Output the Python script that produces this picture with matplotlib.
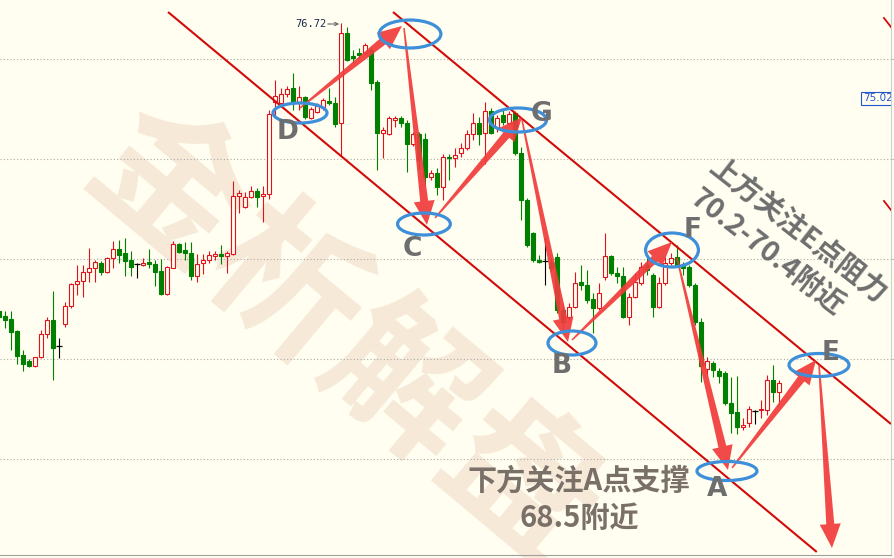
import matplotlib
matplotlib.use('Agg')
import matplotlib.pyplot as plt
from matplotlib.patches import Ellipse, Polygon, Rectangle
from matplotlib.transforms import IdentityTransform
import numpy as np

BG = '#FFFEF0'
RED = '#E0121E'
GREEN = '#008000'

# ---- candle data (price units) ----
opens = [70.96, 70.86, 70.80, 70.56, 70.08, 69.96, 69.86, 70.04, 70.50, 70.78,
         70.26, 70.70, 71.06, 71.50, 71.56, 71.74, 71.82, 71.92, 71.74, 72.02,
         72.20, 72.12, 71.98, 71.90, 71.88, 71.94, 71.90, 71.76, 71.30, 71.82,
         72.30, 72.18, 72.12, 71.66, 71.92, 71.98, 72.06, 72.10, 72.06, 72.10,
         73.26, 73.04, 73.24, 73.36, 73.26, 73.30, 75.14, 75.12, 75.30, 75.42,
         75.14, 75.24, 74.82, 74.94, 75.04, 75.16, 75.12, 74.72, 76.52, 76.06,
         76.12, 76.12, 76.18, 75.54, 74.52, 74.50, 74.78, 74.82, 74.72, 74.30,
         74.50, 74.40, 73.64, 73.72, 73.44, 74.04, 74.02, 74.12, 74.22, 74.50,
         74.72, 74.52, 74.96, 74.62, 74.88, 74.72, 74.92, 74.12, 73.18, 72.52,
         71.98, 71.96, 71.94, 72.04, 70.98, 70.84, 71.04, 71.54, 71.48, 71.20,
         71.02, 71.64, 72.06, 71.72, 71.66, 70.84, 71.24, 71.52, 71.88, 71.68,
         71.04, 71.52, 71.92, 72.04, 71.86, 71.84, 71.48, 70.74, 69.80, 69.92,
         69.76, 69.72, 69.12, 68.94, 68.64, 68.72, 68.96, 68.98, 68.98, 69.58,
         69.34]
highs = [71.02, 70.96, 70.96, 70.58, 70.18, 70.00, 70.04, 70.58, 70.84, 71.36,
         70.42, 71.14, 71.52, 71.88, 71.88, 72.22, 71.98, 71.96, 72.04, 72.36,
         72.38, 72.42, 72.16, 71.92, 72.02, 72.20, 71.98, 72.00, 71.86, 72.36,
         72.32, 72.34, 72.34, 72.10, 72.10, 72.16, 72.16, 72.28, 72.16, 73.56,
         73.38, 73.34, 73.46, 73.42, 73.46, 74.98, 75.58, 75.42, 75.46, 75.72,
         75.46, 75.26, 75.04, 75.12, 75.22, 75.42, 75.24, 76.72, 76.64, 76.18,
         76.22, 76.32, 76.24, 75.58, 74.64, 74.86, 74.86, 74.86, 74.78, 74.54,
         74.54, 74.52, 73.78, 73.82, 74.10, 74.10, 74.22, 74.32, 74.58, 74.92,
         74.84, 75.14, 75.02, 74.88, 74.98, 74.96, 74.96, 74.24, 73.22, 72.54,
         72.08, 72.42, 72.02, 72.12, 71.08, 71.12, 71.74, 71.88, 71.78, 71.32,
         71.52, 72.52, 72.08, 71.84, 71.84, 71.32, 71.72, 71.94, 72.02, 71.72,
         71.64, 72.04, 72.12, 72.28, 71.94, 71.88, 71.52, 70.82, 70.04, 69.96,
         69.82, 69.76, 69.64, 69.66, 68.82, 69.06, 68.98, 69.18, 69.68, 69.88,
         69.58]
lows = [70.78, 70.62, 70.18, 69.90, 69.76, 69.84, 69.84, 70.02, 70.42, 69.58,
        70.02, 70.64, 71.02, 71.28, 71.24, 71.54, 71.54, 71.68, 71.72, 71.82,
        71.92, 71.66, 71.66, 71.62, 71.86, 71.82, 71.46, 71.28, 71.28, 71.82,
        72.12, 71.98, 71.58, 71.54, 71.70, 71.92, 71.98, 71.90, 71.72, 72.08,
        72.92, 73.02, 73.22, 73.04, 72.74, 73.20, 74.82, 75.04, 75.24, 74.98,
        74.98, 74.80, 74.80, 74.92, 74.98, 75.08, 74.64, 74.08, 75.96, 75.92,
        76.02, 76.08, 75.38, 73.78, 74.02, 74.48, 74.64, 74.64, 73.74, 74.26,
        73.78, 73.48, 73.58, 73.28, 73.18, 73.58, 73.84, 74.04, 74.18, 74.38,
        74.28, 73.90, 74.50, 74.54, 74.68, 74.68, 74.08, 72.78, 72.24, 71.94,
        71.92, 71.48, 71.74, 70.92, 70.52, 70.78, 71.02, 71.38, 71.12, 70.52,
        70.98, 71.58, 71.68, 71.52, 70.82, 70.68, 71.22, 71.48, 71.68, 70.84,
        71.02, 71.48, 71.88, 71.84, 71.68, 71.44, 70.68, 69.54, 69.64, 69.64,
        69.52, 69.08, 68.52, 68.50, 68.58, 68.64, 68.70, 68.82, 68.88, 69.14,
        69.08]
closes = [70.84, 70.78, 70.54, 70.06, 69.90, 69.86, 70.04, 70.50, 70.78, 70.22,
          70.26, 71.06, 71.50, 71.56, 71.74, 71.82, 71.94, 71.74, 72.02, 72.20,
          72.08, 71.96, 71.84, 71.90, 71.92, 71.90, 71.74, 71.30, 71.84, 72.30,
          72.14, 72.12, 71.66, 71.90, 71.98, 72.08, 72.10, 72.06, 72.12, 73.26,
          73.32, 73.24, 73.36, 73.24, 73.30, 74.90, 75.26, 75.30, 75.40, 75.12,
          75.24, 74.84, 75.00, 75.06, 75.18, 75.12, 74.70, 76.52, 75.98, 76.02,
          76.08, 76.28, 75.52, 74.52, 74.58, 74.82, 74.82, 74.72, 74.30, 74.50,
          73.98, 73.64, 73.72, 73.44, 74.04, 74.02, 74.08, 74.22, 74.50, 74.72,
          74.50, 74.96, 74.52, 74.82, 74.74, 74.90, 74.12, 73.18, 72.28, 71.98,
          71.94, 71.96, 71.82, 70.98, 70.74, 71.04, 71.52, 71.48, 71.18, 71.02,
          71.32, 72.06, 71.72, 71.66, 70.84, 71.24, 71.54, 71.84, 71.78, 71.04,
          71.52, 71.92, 72.02, 71.88, 71.82, 71.48, 70.74, 69.86, 69.96, 69.78,
          69.66, 69.12, 68.92, 68.64, 68.68, 69.00, 68.96, 69.00, 69.58, 69.34,
          69.52]

grid_levels = [68, 70, 72, 74, 76]
high_label = '76.72'
price_tag = '75.02'

# channel lines (bar index, price)
lower_line = [(28.17, 76.94), (136.3, 66.14)]
upper_line = [(65.67, 76.94), (148.67, 68.70)]

# key points: label, ellipse centre, ellipse size, label position
points = {
    'D': ((50.17, 74.92), (9.0, 0.40), (48.17, 74.54)),
    '':  ((68.5, 76.50), (10.3, 0.56), None),
    'C': ((70.83, 72.70), (8.8, 0.44), (68.83, 72.20)),
    'G': ((86.5, 74.78), (9.5, 0.48), (90.5, 74.90)),
    'B': ((95.5, 70.32), (8.0, 0.48), (93.83, 69.86)),
    'F': ((112.17, 72.18), (8.8, 0.68), (115.67, 72.58)),
    'A': ((121.33, 67.76), (10.0, 0.38), (119.67, 67.40)),
    'E': ((136.67, 69.88), (10.0, 0.46), (138.67, 70.12)),
}

# arrows: (start, tip)
arrows = [
    ((50.17, 75.02), (67.17, 76.66)),
    ((67.5, 76.62), (71.33, 72.68)),
    ((72.67, 72.82), (87.17, 74.84)),
    ((87.17, 74.78), (94.83, 70.34)),
    ((95.5, 70.38), (112.17, 72.34)),
    ((113.0, 72.02), (121.5, 67.78)),
    ((122.17, 67.82), (136.17, 69.98)),
    ((136.67, 69.88), (138.83, 66.22)),
]

fig = plt.figure(figsize=(8.95, 5.58), dpi=100, facecolor=BG)
ax = fig.add_axes([0, 3 / 558, 891 / 895, 555 / 558])
ax.set_facecolor(BG)
ax.set_xlim(0.167, 148.67)
ax.set_ylim(66.08, 77.18)

# watermark
ax.text(0.385, 0.39, '金析解盘', transform=ax.transAxes, fontsize=110,
        fontweight='bold', color='#F6E9D8', rotation=-40, rotation_mode='anchor',
        ha='center', va='center', family=['Noto Sans CJK SC', 'DejaVu Sans'], zorder=0.2)

# grid
ax.set_yticks(grid_levels)
ax.yaxis.grid(True, linestyle=(0, (1, 2)), color='#A9A9A9', lw=0.8)
ax.set_axisbelow(True)
ax.set_xticks([])
ax.yaxis.tick_right()
ax.tick_params(axis='y', length=3, color='#BBBBBB', labelright=False, labelleft=False)
for s in ['left', 'top']:
    ax.spines[s].set_visible(False)
ax.spines['right'].set_color('#CFCFCF')
ax.spines['right'].set_linewidth(0.8)
ax.spines['bottom'].set_color('#A0A0A0')
ax.spines['bottom'].set_linewidth(0.8)

# candles
bw = 0.72
for i, (o, h, l, c) in enumerate(zip(opens, highs, lows, closes)):
    if c > o:
        col = RED
    elif c < o:
        col = GREEN
    else:
        col = '#000000'
    ax.vlines(i, l, h, color=col, lw=0.8, zorder=3)
    if c == o:
        ax.hlines(c, i - 0.42, i + 0.42, color=col, lw=0.9, zorder=4)
        continue
    bottom = min(o, c)
    height = max(abs(c - o), 0.02)
    face = BG if c > o else GREEN
    ax.add_patch(Rectangle((i - bw / 2, bottom), bw, height, facecolor=face,
                           edgecolor=col, lw=0.8, zorder=4))

# channel lines
for ln in (lower_line, upper_line):
    (x0, y0), (x1, y1) = ln
    ax.plot([x0, x1], [y0, y1], color='#D20A0A', lw=1.5, zorder=5, solid_capstyle='butt')

# small extra right-edge line pieces
ax.plot([147.5, 148.67], [76.82, 76.64], color='#D20A0A', lw=1.3, zorder=5)
ax.plot([147.5, 148.67], [73.16, 72.98], color='#D20A0A', lw=1.3, zorder=5)


def taper_arrow(p0, p1, w0=1.5, w1=8.0, hw=21.0, hl=24.0, color='#F03C3C'):
    t = ax.transData
    a = np.array(t.transform(p0))
    b = np.array(t.transform(p1))
    d = b - a
    L = np.hypot(*d)
    u = d / L
    n = np.array([-u[1], u[0]])
    hb = b - u * hl
    pts = [a + n * w0 / 2, hb + n * w1 / 2, hb + n * hw / 2, b,
           hb - n * hw / 2, hb - n * w1 / 2, a - n * w0 / 2]
    poly = Polygon(pts, closed=True, transform=IdentityTransform(),
                   facecolor=color, edgecolor='none', alpha=0.93, zorder=6)
    ax.add_patch(poly)


for s, e in arrows:
    taper_arrow(s, e)

# ellipses and labels
for name, (ctr, size, lab) in points.items():
    ax.add_patch(Ellipse(ctr, size[0], size[1], fill=False, edgecolor='#3E8FDA',
                         lw=2.3, zorder=7))
    if lab is not None:
        ax.text(lab[0], lab[1], name, fontsize=19, fontweight='bold', color='#6E6E6E',
                ha='center', va='center', family='DejaVu Sans', zorder=8)

cjk = ['Noto Sans CJK SC', 'DejaVu Sans']
ax.text(96.67, 67.56, '下方关注A点支撑', fontsize=21, fontweight='bold', color='#7A7068',
        ha='center', va='center', family=cjk, zorder=8)
ax.text(96.67, 66.82, '68.5附近', fontsize=21, fontweight='bold', color='#7A7068',
        ha='center', va='center', family=cjk, zorder=8)
ax.text(133.2, 72.56, '上方关注E点阻力', fontsize=20.5, fontweight='bold', color='#6E6E6E',
        ha='center', va='center', rotation=-38, rotation_mode='anchor', family=cjk, zorder=8)
ax.text(128.0, 72.12, '70.2-70.4附近', fontsize=20.5, fontweight='bold', color='#6E6E6E',
        ha='center', va='center', rotation=-38, rotation_mode='anchor', family=cjk, zorder=8)

# high label
ax.text(54.6, highs[57] - 0.02, high_label, fontsize=7.5, color='#1C2C4C',
        ha='right', va='center', family='DejaVu Sans Mono', zorder=8)
ax.annotate('', xy=(56.7, highs[57] - 0.02), xytext=(54.8, highs[57] - 0.02),
            arrowprops=dict(arrowstyle='->', color='#666666', lw=0.8,
                            shrinkA=0, shrinkB=0, mutation_scale=6), zorder=8)

# price tag on right edge
ax.text(0.9685, 0.823, price_tag, transform=ax.transAxes, fontsize=7.5,
        color='#2256CC', ha='left', va='center', family='DejaVu Sans', zorder=9,
        clip_on=True,
        bbox=dict(boxstyle='square,pad=0.15', facecolor=BG, edgecolor='#2256CC', lw=0.8))

fig.savefig('out.png', dpi=100, facecolor=BG)
